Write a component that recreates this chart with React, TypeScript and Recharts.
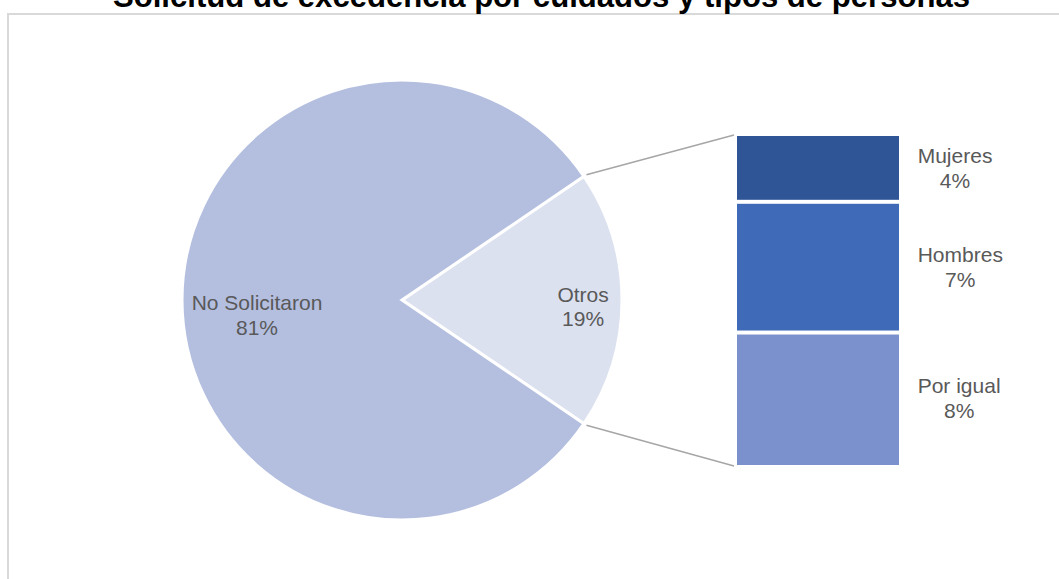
import React from 'react';
import { PieChart, Pie, Cell, BarChart, Bar, XAxis, YAxis, LabelList } from 'recharts';

// ---- data ----
const TITLE = 'Solicitud de excedencia por cuidados y tipos de personas';
const pieNames = ['Otros', 'No Solicitaron'];
const pieValues = [19, 81];
const pieColors = ['#dce1f0', '#b4bfe0'];
const barNames = ['Por igual', 'Hombres', 'Mujeres'];
const barValues = [7.55, 7.45, 3.75];
const barColors = ['#7a91cd', '#3e6ab8', '#2f5597'];

// ---- layout / style ----
const W = 1059;
const H = 579;
const PIE_CX = 402;
const PIE_CY = 300;
const PIE_R = 220;
const FONT = '"Liberation Sans", Arial, sans-serif';
const TEXT = '#595959';
const RAD = Math.PI / 180;
const labelRadiusK = [0.823, 0.659];
const labelDy = [1.7, 10];

const sum = (a: number[]) => a.reduce((s, v) => s + v, 0);
const pieTotal = sum(pieValues);
const otrosHalfAngle = (pieValues[0] / pieTotal) * 180;
const pieStart = -otrosHalfAngle;
const pieEnd = pieStart + 360;
const barTotal = sum(barValues);

const polar = (r: number, angleDeg: number) => ({
  x: PIE_CX + r * Math.cos(-angleDeg * RAD),
  y: PIE_CY + r * Math.sin(-angleDeg * RAD),
});

const pieData = pieNames.map((name, i) => ({ name, value: pieValues[i] }));
const barRow: Record<string, any> = { cat: pieNames[0] };
barNames.forEach((n, i) => (barRow[n] = barValues[i]));

let _ctx: CanvasRenderingContext2D | null = null;
const measure = (text: string, size: number) => {
  if (!_ctx) _ctx = document.createElement('canvas').getContext('2d');
  if (!_ctx) return text.length * size * 0.5;
  _ctx.font = `${size}px "Liberation Sans", Arial, sans-serif`;
  return _ctx.measureText(text).width;
};

const renderPieLabel = (props: any) => {
  const { cx, cy, midAngle, outerRadius, index } = props;
  const k = labelRadiusK[index];
  const x = cx + outerRadius * k * Math.cos(-midAngle * RAD);
  const y = cy + outerRadius * k * Math.sin(-midAngle * RAD) + labelDy[index];
  return (
    <text x={x} y={y} textAnchor="middle" fill={TEXT} fontSize={21} fontFamily={FONT}>
      <tspan x={x} y={y}>{pieNames[index]}</tspan>
      <tspan x={x} y={y + 24.5}>{`${pieValues[index]}%`}</tspan>
    </text>
  );
};

const makeShape = (i: number) => (props: any) => {
  const { x, y, width, height, fill } = props;
  const isTop = i === barNames.length - 1;
  const isBottom = i === 0;
  const y0 = isTop ? y : y + 2;
  const y1 = isBottom ? y + height : y + height - 2;
  let connector = null;
  if (isTop) {
    const p = polar(PIE_R + 3, otrosHalfAngle);
    connector = <line x1={p.x} y1={p.y} x2={x - 3} y2={y - 1} stroke="#a6a6a6" strokeWidth={1.5} />;
  }
  if (isBottom) {
    const p = polar(PIE_R + 3, -otrosHalfAngle);
    connector = <line x1={p.x} y1={p.y} x2={x - 3} y2={y + height + 1} stroke="#a6a6a6" strokeWidth={1.5} />;
  }
  return (
    <g>
      <rect x={x} y={y0} width={width} height={Math.max(0, y1 - y0)} fill={fill} />
      {connector}
    </g>
  );
};

const makeBarLabel = (i: number) => (props: any) => {
  const { x, y, width, height } = props;
  const name = barNames[i];
  const left = x + width + 18.7;
  const w = measure(name, 21);
  const cxT = left + w / 2;
  const mid = y + height / 2;
  return (
    <text textAnchor="middle" fill={TEXT} fontSize={21} fontFamily={FONT}>
      <tspan x={cxT} y={mid - 5.5}>{name}</tspan>
      <tspan x={cxT} y={mid + 19.5}>{`${Math.round(barValues[i])}%`}</tspan>
    </text>
  );
};

export default function App() {
  return (
    <div style={{ position: 'absolute', left: 0, top: 0, width: W, height: H, overflow: 'hidden', background: '#fff' }}>
      <div
        style={{
          position: 'absolute',
          left: 7,
          top: 13,
          width: 1200,
          height: 800,
          border: '2px solid #d9d9d9',
          boxSizing: 'border-box',
        }}
      />
      <div style={{ position: 'absolute', left: 0, top: 0 }}>
        <PieChart width={W} height={H} margin={{ top: 0, right: 0, bottom: 0, left: 0 }}>
          <Pie
            data={pieData}
            dataKey="value"
            nameKey="name"
            cx={PIE_CX}
            cy={PIE_CY}
            outerRadius={PIE_R}
            innerRadius={0}
            startAngle={pieStart}
            endAngle={pieEnd}
            stroke="#ffffff"
            strokeWidth={3}
            label={renderPieLabel}
            labelLine={false}
            isAnimationActive={false}
          >
            {pieData.map((d, i) => (
              <Cell key={d.name} fill={pieColors[i]} stroke="#ffffff" strokeWidth={3} />
            ))}
          </Pie>
        </PieChart>
      </div>
      <div style={{ position: 'absolute', left: 0, top: 0 }}>
        <BarChart
          width={W}
          height={H}
          data={[barRow]}
          margin={{ top: 136, bottom: 114, left: 737, right: 160 }}
          barCategoryGap={0}
        >
          <XAxis dataKey="cat" hide />
          <YAxis hide domain={[0, barTotal]} />
          {barNames.map((n, i) => (
            <Bar
              key={n}
              dataKey={n}
              stackId="otros"
              fill={barColors[i]}
              shape={makeShape(i)}
              isAnimationActive={false}
            >
              <LabelList dataKey={n} content={makeBarLabel(i)} />
            </Bar>
          ))}
        </BarChart>
      </div>
      <svg width={W} height={40} style={{ position: 'absolute', left: 0, top: 0 }}>
        <text x={541.5} y={7} textAnchor="middle" fontWeight={700} fontSize={31.1} fontFamily={FONT} fill="#000">
          {TITLE}
        </text>
      </svg>
    </div>
  );
}
